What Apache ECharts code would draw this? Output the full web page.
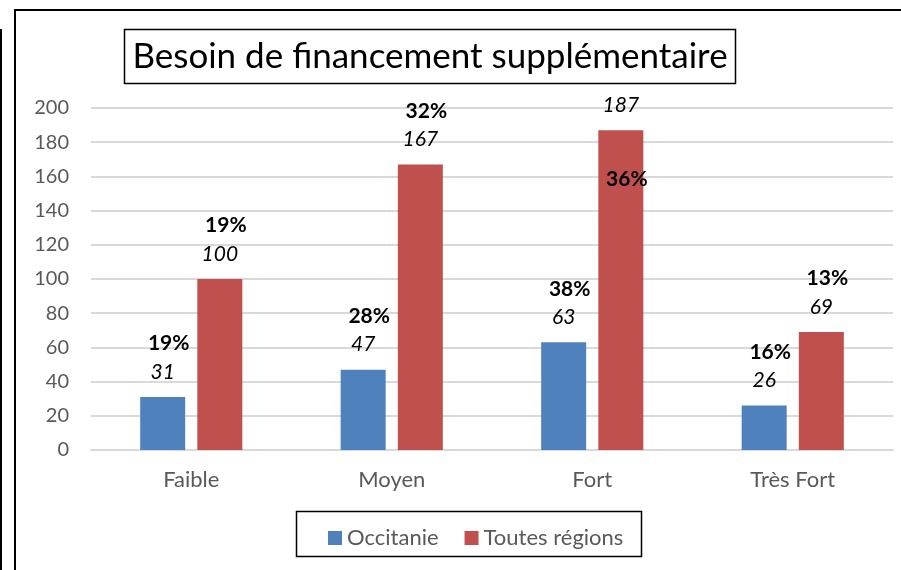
<!DOCTYPE html>
<html>
<head>
<meta charset="utf-8">
<script src="https://cdn.jsdelivr.net/npm/echarts@6/dist/echarts.min.js"></script>
<style>
  html, body { margin: 0; padding: 0; background: #fff; }
  #chart { width: 901px; height: 570px; }
</style>
</head>
<body>
<div id="chart"></div>
<script>
  var categories = ['Faible', 'Moyen', 'Fort', 'Très Fort'];
  var occitanie = [31, 47, 63, 26];
  var toutes = [100, 167, 187, 69];
  var pctOccitanie = ['19%', '28%', '38%', '16%'];
  var pctToutes = ['19%', '32%', '36%', '13%'];
  var yTicks = [0, 20, 40, 60, 80, 100, 120, 140, 160, 180, 200];

  var font = 'Lato, "Open Sans", sans-serif';

  var richLabel = {
    p: { fontFamily: font, fontSize: 21, fontWeight: 'bold', color: '#000', lineHeight: 31, padding: [0, 0, 0, 12] },
    v: { fontFamily: font, fontSize: 21, fontStyle: 'italic', color: '#000', lineHeight: 26 },
    s: { lineHeight: 46 }
  };

  function buildData(values, pcts, insideIdx) {
    return values.map(function (v, i) {
      var item = { value: v };
      if (i === insideIdx) {
        // percentage sits inside the bar here
        item.label = {
          position: 'insideTop',
          offset: [0, -50],
          formatter: '{v|' + v + '}\n{s|}\n{p|' + pcts[i] + '}'
        };
      } else {
        item.label = { formatter: '{p|' + pcts[i] + '}\n{v|' + v + '}' };
      }
      return item;
    });
  }

  var myChart = echarts.init(document.getElementById('chart'), null, { renderer: 'canvas' });

  var option = {
    backgroundColor: '#fff',
    animation: false,
    graphic: [
      { type: 'line', shape: { x1: 15, y1: 10, x2: 901, y2: 10 }, style: { stroke: '#000', lineWidth: 2 } },
      { type: 'line', shape: { x1: 15, y1: 9, x2: 15, y2: 570 }, style: { stroke: '#000', lineWidth: 2 } },
      { type: 'line', shape: { x1: 1, y1: 29, x2: 1, y2: 570 }, style: { stroke: '#000', lineWidth: 2 } },
      { type: 'rect', shape: { x: 124.5, y: 29.5, width: 611, height: 54 }, style: { fill: '#fff', stroke: '#000', lineWidth: 1.5 }, z: 10 },
      { type: 'text', x: 430, y: 57, z: 11, style: { text: 'Besoin de financement supplémentaire', fontFamily: font, fontSize: 35, fill: '#000', textAlign: 'center', textVerticalAlign: 'middle' } },
      { type: 'rect', shape: { x: 296.5, y: 511.5, width: 345, height: 45 }, style: { fill: '#fff', stroke: '#000', lineWidth: 1.5 }, z: 1 }
    ],
    legend: {
      data: ['Occitanie', 'Toutes régions'],
      left: 323,
      top: 522,
      itemWidth: 14,
      itemHeight: 14,
      itemGap: 26,
      icon: 'rect',
      z: 5,
      textStyle: { fontFamily: font, fontSize: 22, color: '#595959' }
    },
    grid: { left: 91, right: 8, top: 108, bottom: 120 },
    xAxis: {
      type: 'category',
      data: categories,
      axisTick: { show: false },
      axisLine: { lineStyle: { color: '#d9d9d9', width: 2 } },
      axisLabel: { fontFamily: font, fontSize: 22, color: '#595959', margin: 19 }
    },
    yAxis: {
      type: 'value',
      min: yTicks[0],
      max: yTicks[yTicks.length - 1],
      interval: yTicks[1] - yTicks[0],
      axisLine: { show: false },
      axisTick: { show: false },
      splitLine: { lineStyle: { color: '#d9d9d9', width: 2 } },
      axisLabel: { fontFamily: font, fontSize: 20, color: '#595959', margin: 22 }
    },
    series: [
      {
        name: 'Occitanie',
        type: 'bar',
        barWidth: 45,
        barGap: '27%',
        itemStyle: { color: '#4f81bd' },
        label: { show: true, position: 'top', distance: 12, rich: richLabel },
        data: buildData(occitanie, pctOccitanie, -1)
      },
      {
        name: 'Toutes régions',
        type: 'bar',
        barWidth: 45,
        itemStyle: { color: '#c0504d' },
        label: { show: true, position: 'top', distance: 12, rich: richLabel },
        data: buildData(toutes, pctToutes, 2)
      }
    ]
  };

  myChart.setOption(option);
</script>
</body>
</html>
